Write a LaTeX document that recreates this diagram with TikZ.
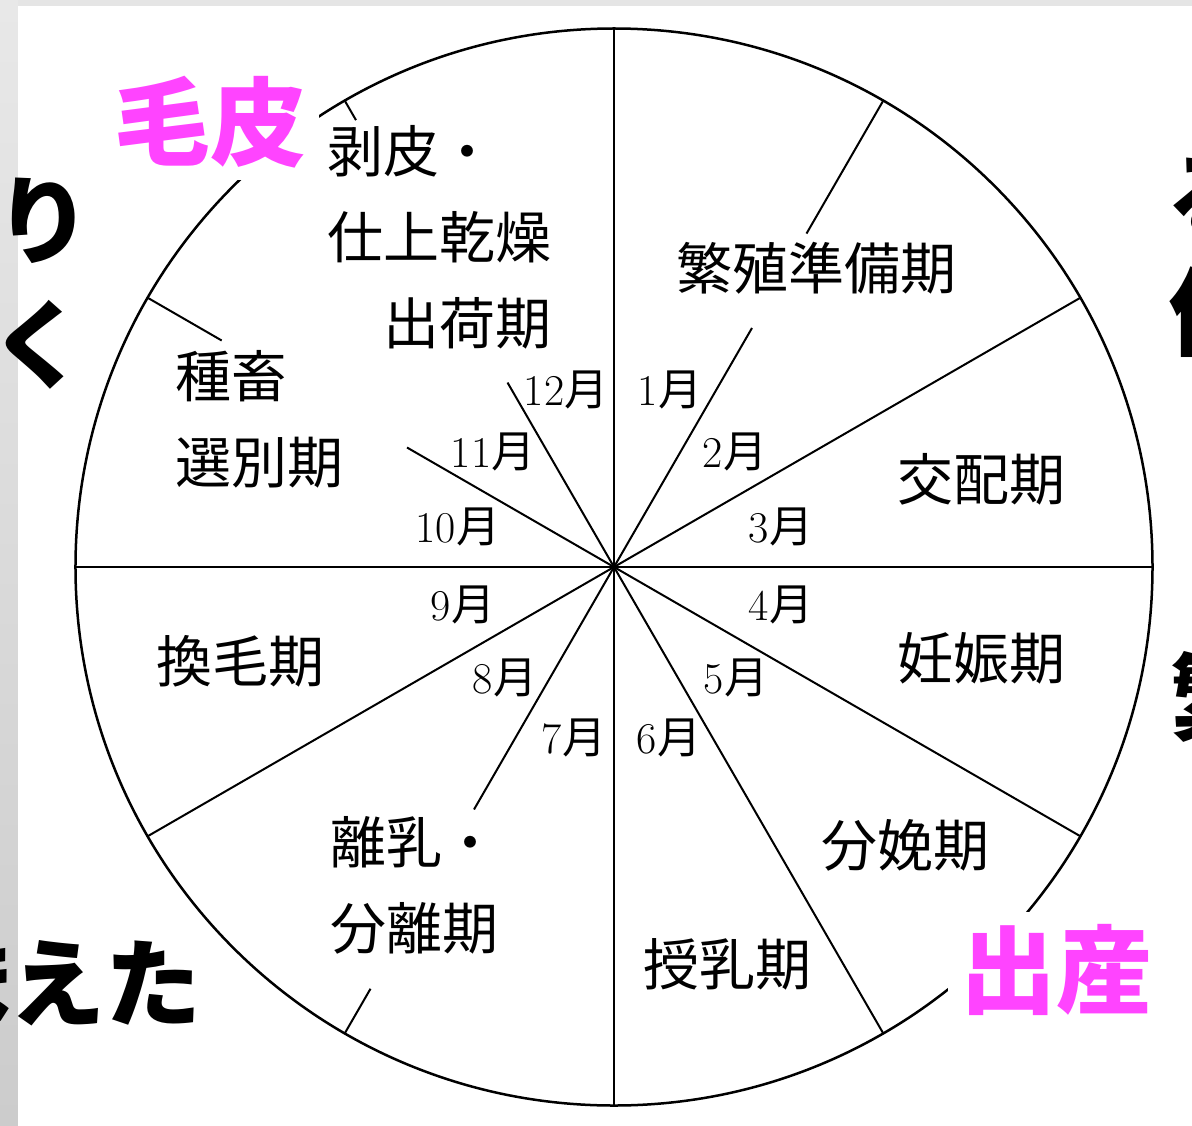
\documentclass[tikz,border=0pt]{standalone}
\usepackage{fontspec}
\newfontfamily\jpf{Noto Sans CJK JP}
\definecolor{pelt}{RGB}{255,68,255}
\newcommand{\tsuki}[1]{#1{\jpf 月}}
\tikzset{
  season/.style={font=\jpf\fontsize{28}{43}\selectfont, inner sep=0pt},
  monthlab/.style={font=\fontsize{22}{26}\selectfont, inner sep=0pt},
  slidetext/.style={font=\jpf\bfseries\fontsize{48}{56}\selectfont, inner sep=0pt},
  keyword/.style={slidetext, text=pelt, fill=white, inner sep=6pt},
  divider/.style={line width=1pt},
}
\begin{document}
\begin{tikzpicture}[x=0.5pt,y=0.5pt]
\useasboundingbox (-614,-558) rectangle (578,567);
\clip (-614,-558) rectangle (578,567);
% slide behind the chart
\fill[black!10] (-614,-558) rectangle (578,567);
\shade[top color=black!9, bottom color=black!20] (-614,-558) rectangle (-596,567);
\fill[white] (-596,-558) rectangle (578,561);
\node[slidetext] (ri) at (-570,346) {り};
\node[slidetext] (ku) at (-575,222) {く};
\node[slidetext] (maeta) at (-551,-416) {ま\kern-6pt えた};
\node[slidetext, anchor=west] (ru) at (552,369) {る};
\node[slidetext, anchor=west] (saku) at (554,255) {作};
\node[slidetext, anchor=west] (han) at (556,-130) {繁};
% the year wheel
\coordinate (c) at (0,0);
\draw[line width=1.25pt] (c) circle (538.5);
\draw[divider] (c) -- (90:538.5);
\draw[divider] (c) -- (60:276);
\draw[divider] (60:385) -- (60:538.5);
\draw[divider] (c) -- (30:538.5);
\draw[divider] (c) -- (0:538.5);
\draw[divider] (c) -- (-30:538.5);
\draw[divider] (c) -- (-60:538.5);
\draw[divider] (c) -- (-90:538.5);
\draw[divider] (c) -- (240:280);
\draw[divider] (240:487) -- (240:538.5);
\draw[divider] (c) -- (210:538.5);
\draw[divider] (c) -- (180:538.5);
\draw[divider] (c) -- (150:239);
\draw[divider] (150:453) -- (150:538.5);
\draw[divider] (c) -- (120:213);
\draw[divider] (120:516) -- (120:538.5);
% months
\node[monthlab] (jan) at (56,177) {\tsuki{1}};
\node[monthlab] (feb) at (121,115) {\tsuki{2}};
\node[monthlab] (mar) at (167,40) {\tsuki{3}};
\node[monthlab] (apr) at (167,-38) {\tsuki{4}};
\node[monthlab] (may) at (122,-111) {\tsuki{5}};
\node[monthlab] (jun) at (55,-171) {\tsuki{6}};
\node[monthlab] (jul) at (-40,-171) {\tsuki{7}};
\node[monthlab] (aug) at (-109,-111) {\tsuki{8}};
\node[monthlab] (sep) at (-151,-38) {\tsuki{9}};
\node[monthlab] (oct) at (-156,40) {\tsuki{10}};
\node[monthlab] (nov) at (-121,115) {\tsuki{11}};
\node[monthlab] (dec) at (-48,177) {\tsuki{12}};
% seasons
\node[season] (breedprep) at (202,299) {繁殖準備期};
\node[season] (mating) at (367,88) {交配期};
\node[season] (pregnant) at (367,-91) {妊娠期};
\node[season] (birth) at (291,-278) {分娩期};
\node[season] (nursing) at (113,-397) {授乳期};
\node[season, anchor=west, align=left] (weaning) at (-284,-318) {離乳・\\分離期};
\node[season] (moult) at (-373,-94) {換毛期};
\node[season, anchor=west, align=left] (select) at (-439,148) {種畜\\選別期};
\node[season, anchor=west, align=left] (pelting) at (-287,330) {剥皮・\\仕上乾燥\\\hspace*{1em}出荷期};
% keywords on top
\node[keyword] (fur) at (-403,445) {毛皮};
\node[keyword] (birthkw) at (442,-403) {出産};
\end{tikzpicture}
\end{document}
